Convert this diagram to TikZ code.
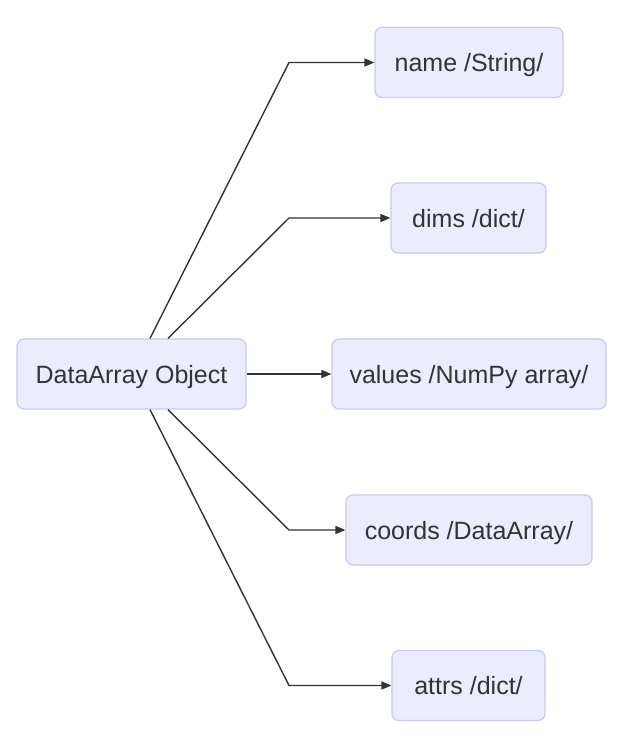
\documentclass[tikz,border=0pt]{standalone}
\usepackage{fontspec}
\setmainfont{Liberation Sans}
\usetikzlibrary{arrows.meta}
\definecolor{boxfill}{HTML}{ECECFF}
\definecolor{boxline}{HTML}{C8C8F6}
\definecolor{txt}{HTML}{333333}
\definecolor{edge}{HTML}{333333}
\begin{document}
\begin{tikzpicture}[x=1pt,y=-1pt,
  box/.style={draw=boxline,fill=boxfill,line width=1.2pt,rounded corners=7pt,
    minimum height=70pt,inner sep=0pt,text height=18pt,text depth=0pt,
    text=txt,font=\fontsize{25}{30}\selectfont},
  conn/.style={draw=edge,line width=1.4pt,-{Triangle[length=10pt,width=8pt]}}]
\useasboundingbox (0,0) rectangle (619,739);
\node[box,minimum width=229pt] (da) at (131.5,374) {DataArray Object};
\node[box,minimum width=188pt] (name) at (469,62.5) {name /String/};
\node[box,minimum width=155pt] (dims) at (468.5,218) {dims /dict/};
\node[box,minimum width=274pt] (vals) at (469,374) {values /NumPy array/};
\node[box,minimum width=246pt] (coords) at (469,530) {coords /DataArray/};
\node[box,minimum width=153pt] (attrs) at (468.5,685.5) {attrs /dict/};
\coordinate (b1) at (289,62.5);
\coordinate (b2) at (289,218);
\coordinate (b4) at (289,530);
\coordinate (b5) at (289,685.5);
\draw[conn] ([xshift=18.5pt]da.north) -- (b1) -- (name.west);
\draw[conn] ([xshift=36.5pt]da.north) -- (b2) -- (dims.west);
\draw[conn] (da.east) -- (vals.west);
\draw[conn] ([xshift=36.5pt]da.south) -- (b4) -- (coords.west);
\draw[conn] ([xshift=18.5pt]da.south) -- (b5) -- (attrs.west);
\end{tikzpicture}
\end{document}
